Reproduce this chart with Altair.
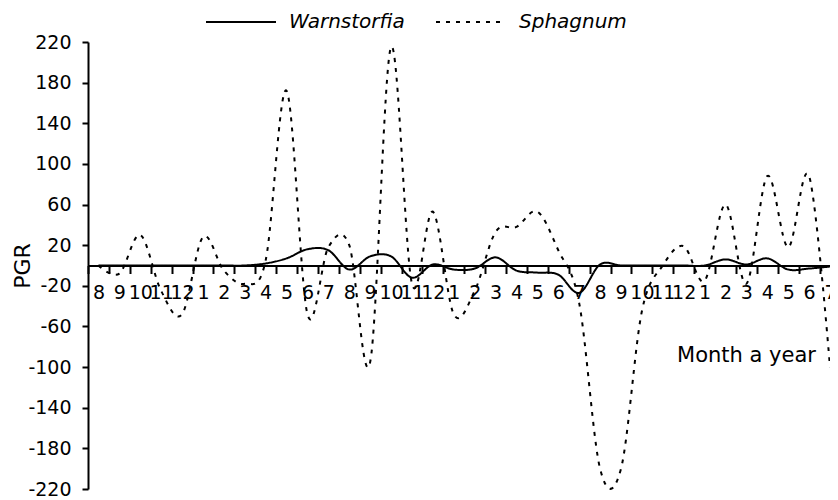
import json
import altair as alt
import pandas as pd

months = ["8", "9", "10", "11", "12", "1", "2", "3", "4", "5", "6", "7"] * 3
series_names = ["Warnstorfia", "Sphagnum"]

warnstorfia = [0, 0, 0, 0, 0, 0, 0, 0, 2, 7, 16, 15,
               -4, 9, 9, -12, 1, -4, -3, 8, -5, -7, -9, -27,
               1, 0, 0, 0, 0, 0, 6, 1, 7, -4, -3, -1]
sphagnum = [0, -8, 30, -25, -48, 28, -5, -18, 5, 172, -48, 18,
            20, -95, 215, -18, 53, -48, -25, 33, 38, 53, 15, -37,
            -200, -200, -45, 0, 19, -15, 60, -18, 88, 18, 88, -100]

y_ticks = [220, 180, 140, 100, 60, 20, -20, -60, -100, -140, -180, -220]

rows = []
for i, m in enumerate(months):
    rows.append({"pos": i + 0.5, "month": m, "series": "Warnstorfia", "value": warnstorfia[i]})
    rows.append({"pos": i + 0.5, "month": m, "series": "Sphagnum", "value": sphagnum[i]})
df = pd.DataFrame(rows)

W, H = 742, 447
FONT = "DejaVu Sans"
xscale = alt.Scale(domain=[0, 35.5], nice=False, zero=False)
yscale = alt.Scale(domain=[-220, 220], nice=False, zero=False)

tick_axis = alt.Axis(
    orient="bottom", offset=-H / 2, values=list(range(0, 36)),
    labels=False, grid=False, title=None,
    domain=True, domainColor="black", domainWidth=2,
    ticks=True, tickSize=8, tickWidth=2, tickColor="black",
)
label_axis = alt.Axis(
    orient="bottom", offset=-H / 2, values=[i + 0.5 for i in range(36)],
    labelExpr=json.dumps(months) + "[floor(datum.value)]",
    domain=False, ticks=False, tickSize=0, grid=False,
    labelFont=FONT, labelFontSize=19, labelColor="black", labelPadding=18,
    labelOverlap=False, labelFlush=False,
    title="Month a year", titleFont=FONT, titleFontSize=21, titleFontWeight="normal",
    titleColor="black", titleX=658, titleY=90, titleAlign="center", titleBaseline="middle",
)
y_axis = alt.Axis(
    values=y_ticks, grid=False, labelExpr="datum.value + ''",
    domain=True, domainColor="black", domainWidth=2,
    ticks=True, tickSize=6, tickWidth=2, tickColor="black",
    labelFont=FONT, labelFontSize=19, labelColor="black", labelPadding=11,
    labelOverlap=False, labelFlush=False,
    title="PGR", titleFont=FONT, titleFontSize=22, titleFontWeight="normal",
    titleColor="black", titleX=-66, titleY=H / 2, titleAngle=270,
    titleAlign="center", titleBaseline="middle",
)

lines = alt.Chart(df).mark_line(interpolate="cardinal", strokeWidth=2, color="black").encode(
    x=alt.X("pos:Q", scale=xscale, axis=tick_axis),
    y=alt.Y("value:Q", scale=yscale, axis=y_axis),
    strokeDash=alt.StrokeDash(
        "series:N",
        scale=alt.Scale(domain=series_names, range=[[1, 0], [4, 6]]),
        legend=alt.Legend(
            orient="none", legendX=117, legendY=-56, direction="horizontal",
            title=None, symbolType="stroke", symbolSize=4900, symbolStrokeWidth=2,
            symbolStrokeColor="black", labelFont=FONT, labelFontSize=20,
            labelFontStyle="italic", labelColor="black", labelOffset=12,
            columnPadding=27, padding=0, labelLimit=300,
        ),
    ),
    detail="series:N",
)

labels_layer = alt.Chart(df).mark_line(opacity=0).encode(
    x=alt.X("pos:Q", scale=xscale, axis=label_axis),
    y=alt.Y("value:Q", scale=yscale, axis=y_axis),
    detail="series:N",
)

chart = alt.layer(lines, labels_layer).resolve_axis(x="independent").properties(
    width=W, height=H,
    autosize=alt.AutoSizeParams(type="none"),
    padding={"left": 80, "top": 34, "right": 0, "bottom": 10},
    background="white",
).configure_view(stroke=None)

chart.save("out.html", embed_options={"renderer": "svg", "actions": False})
